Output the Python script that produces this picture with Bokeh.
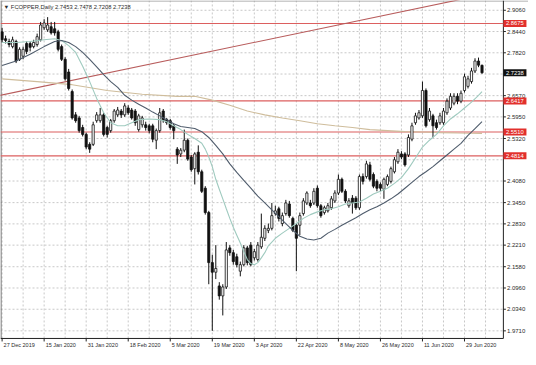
import math
from bokeh.plotting import figure
from bokeh.models import Label, Range1d
from bokeh.core.properties import value
from bokeh.embed import file_html
from bokeh.resources import INLINE

# ---- data ----
date_labels = ["27 Dec 2019", "15 Jan 2020", "31 Jan 2020", "18 Feb 2020", "5 Mar 2020",
               "19 Mar 2020", "3 Apr 2020", "22 Apr 2020", "8 May 2020", "26 May 2020",
               "11 Jun 2020", "29 Jun 2020"]
date_bar = [0, 12, 24, 36, 48, 60, 72, 84, 96, 108, 120, 132]

opens = [2.843, 2.823, 2.815, 2.800, 2.815, 2.763, 2.772, 2.809, 2.809, 2.800,
         2.806, 2.820, 2.855, 2.849, 2.858, 2.852, 2.843, 2.800, 2.763, 2.726,
         2.669, 2.601, 2.592, 2.564, 2.544, 2.515, 2.515, 2.584, 2.584, 2.601,
         2.564, 2.555, 2.584, 2.601, 2.612, 2.601, 2.621, 2.615, 2.612, 2.558,
         2.572, 2.572, 2.569, 2.569, 2.527, 2.555, 2.612, 2.587, 2.584, 2.569,
         2.501, 2.487, 2.498, 2.527, 2.478, 2.444, 2.492, 2.435, 2.387, 2.316,
         2.170, 2.142, 2.102, 2.073, 2.099, 2.213, 2.199, 2.187, 2.145, 2.164,
         2.213, 2.221, 2.184, 2.179, 2.216, 2.241, 2.264, 2.270, 2.313, 2.327,
         2.284, 2.313, 2.341, 2.299, 2.279, 2.279, 2.313, 2.344, 2.344, 2.344,
         2.387, 2.336, 2.316, 2.321, 2.330, 2.350, 2.373, 2.413, 2.378, 2.336,
         2.358, 2.358, 2.330, 2.421, 2.421, 2.455, 2.427, 2.407, 2.398, 2.384,
         2.398, 2.407, 2.435, 2.464, 2.487, 2.487, 2.484, 2.530, 2.578, 2.592,
         2.598, 2.672, 2.587, 2.598, 2.578, 2.578, 2.578, 2.607, 2.621, 2.635,
         2.655, 2.641, 2.672, 2.684, 2.698, 2.729, 2.758, 2.7453]
highs = [2.855, 2.832, 2.823, 2.829, 2.820, 2.798, 2.800, 2.815, 2.815, 2.820,
         2.838, 2.872, 2.880, 2.886, 2.872, 2.872, 2.849, 2.806, 2.769, 2.735,
         2.675, 2.609, 2.598, 2.572, 2.549, 2.521, 2.581, 2.609, 2.621, 2.607,
         2.569, 2.589, 2.618, 2.624, 2.618, 2.635, 2.629, 2.621, 2.618, 2.604,
         2.598, 2.581, 2.575, 2.575, 2.561, 2.621, 2.618, 2.592, 2.589, 2.575,
         2.507, 2.504, 2.558, 2.532, 2.484, 2.492, 2.512, 2.441, 2.393, 2.321,
         2.193, 2.221, 2.113, 2.107, 2.230, 2.221, 2.207, 2.196, 2.173, 2.221,
         2.219, 2.230, 2.210, 2.230, 2.313, 2.279, 2.284, 2.344, 2.336, 2.333,
         2.316, 2.353, 2.350, 2.304, 2.284, 2.316, 2.358, 2.378, 2.353, 2.387,
         2.395, 2.341, 2.336, 2.344, 2.364, 2.381, 2.427, 2.418, 2.384, 2.358,
         2.367, 2.364, 2.427, 2.430, 2.467, 2.464, 2.433, 2.413, 2.404, 2.418,
         2.427, 2.450, 2.478, 2.501, 2.495, 2.492, 2.544, 2.578, 2.607, 2.615,
         2.698, 2.678, 2.621, 2.604, 2.587, 2.607, 2.621, 2.649, 2.664, 2.664,
         2.664, 2.672, 2.721, 2.715, 2.738, 2.766, 2.768, 2.7478]
lows = [2.812, 2.809, 2.798, 2.795, 2.752, 2.758, 2.763, 2.778, 2.786, 2.795,
        2.800, 2.815, 2.849, 2.843, 2.835, 2.832, 2.786, 2.758, 2.701, 2.672,
        2.587, 2.578, 2.549, 2.538, 2.501, 2.490, 2.510, 2.578, 2.578, 2.538,
        2.535, 2.549, 2.578, 2.595, 2.592, 2.595, 2.601, 2.587, 2.569, 2.552,
        2.564, 2.555, 2.547, 2.521, 2.501, 2.549, 2.578, 2.572, 2.558, 2.530,
        2.458, 2.478, 2.492, 2.467, 2.435, 2.398, 2.427, 2.373, 2.310, 2.107,
        1.971, 2.122, 2.062, 2.016, 2.093, 2.190, 2.164, 2.156, 2.130, 2.159,
        2.162, 2.159, 2.176, 2.173, 2.210, 2.233, 2.256, 2.264, 2.307, 2.290,
        2.276, 2.307, 2.301, 2.259, 2.145, 2.250, 2.307, 2.338, 2.330, 2.338,
        2.330, 2.301, 2.310, 2.316, 2.324, 2.344, 2.367, 2.373, 2.344, 2.330,
        2.313, 2.324, 2.324, 2.398, 2.415, 2.407, 2.387, 2.378, 2.378, 2.356,
        2.393, 2.401, 2.430, 2.458, 2.472, 2.450, 2.478, 2.524, 2.572, 2.587,
        2.592, 2.564, 2.581, 2.535, 2.558, 2.572, 2.572, 2.601, 2.615, 2.629,
        2.632, 2.635, 2.666, 2.678, 2.692, 2.723, 2.740, 2.7208]
closes = [2.820, 2.818, 2.806, 2.820, 2.758, 2.792, 2.792, 2.786, 2.798, 2.812,
          2.829, 2.863, 2.869, 2.863, 2.840, 2.840, 2.792, 2.763, 2.706, 2.678,
          2.592, 2.584, 2.555, 2.544, 2.507, 2.501, 2.572, 2.601, 2.601, 2.544,
          2.544, 2.584, 2.612, 2.615, 2.601, 2.627, 2.607, 2.592, 2.578, 2.598,
          2.592, 2.564, 2.555, 2.530, 2.555, 2.607, 2.584, 2.578, 2.564, 2.555,
          2.484, 2.498, 2.527, 2.472, 2.441, 2.487, 2.435, 2.378, 2.316, 2.170,
          2.142, 2.153, 2.073, 2.099, 2.207, 2.199, 2.173, 2.164, 2.164, 2.213,
          2.170, 2.164, 2.202, 2.221, 2.244, 2.270, 2.270, 2.307, 2.321, 2.299,
          2.307, 2.344, 2.307, 2.264, 2.241, 2.307, 2.350, 2.373, 2.336, 2.378,
          2.336, 2.307, 2.330, 2.336, 2.356, 2.373, 2.413, 2.378, 2.350, 2.350,
          2.344, 2.330, 2.421, 2.407, 2.458, 2.413, 2.393, 2.387, 2.387, 2.413,
          2.421, 2.444, 2.470, 2.492, 2.478, 2.455, 2.535, 2.569, 2.598, 2.607,
          2.672, 2.569, 2.612, 2.569, 2.564, 2.598, 2.612, 2.641, 2.655, 2.655,
          2.641, 2.664, 2.712, 2.706, 2.729, 2.758, 2.746, 2.7238]

# moving averages, read at selected bars
ma_fast_bar = [0, 4, 8, 12, 15, 17, 19, 21, 23, 25, 27, 29, 31, 33, 35, 37, 39, 42, 45, 47,
               49, 51, 53, 55, 57, 58, 59, 60, 61, 62, 63, 64, 65, 66, 67, 68, 69, 70, 71, 72,
               73, 74, 75, 76, 78, 80, 82, 84, 86, 88, 90, 92, 94, 96, 98, 100, 102, 104, 106,
               108, 110, 112, 114, 116, 118, 120, 122, 124, 126, 128, 130, 132, 134, 136, 137]
ma_fast = [2.812, 2.812, 2.815, 2.820, 2.823, 2.818, 2.803, 2.783, 2.743, 2.698, 2.649, 2.607,
           2.578, 2.569, 2.569, 2.578, 2.587, 2.589, 2.587, 2.581, 2.569, 2.558, 2.544, 2.532,
           2.518, 2.501, 2.478, 2.450, 2.413, 2.384, 2.356, 2.327, 2.299, 2.273, 2.250, 2.227,
           2.202, 2.179, 2.167, 2.164, 2.170, 2.184, 2.199, 2.219, 2.241, 2.256, 2.270, 2.284,
           2.299, 2.310, 2.318, 2.324, 2.327, 2.333, 2.341, 2.344, 2.347, 2.358, 2.370, 2.378,
           2.387, 2.401, 2.418, 2.444, 2.475, 2.507, 2.527, 2.544, 2.569, 2.589, 2.604, 2.621,
           2.638, 2.658, 2.669]
ma_slow_bar = [0, 4, 8, 12, 15, 17, 19, 21, 23, 25, 27, 29, 31, 33, 35, 37, 39, 41, 43, 45,
               47, 49, 51, 53, 55, 57, 59, 61, 63, 65, 67, 69, 71, 73, 75, 77, 79, 81, 83, 85,
               87, 89, 91, 93, 95, 97, 99, 101, 103, 105, 107, 109, 111, 113, 115, 117, 119,
               121, 123, 125, 127, 129, 131, 133, 135, 137]
ma_slow = [2.745, 2.758, 2.778, 2.800, 2.815, 2.818, 2.812, 2.800, 2.783, 2.763, 2.741, 2.718,
           2.698, 2.681, 2.658, 2.644, 2.632, 2.621, 2.609, 2.598, 2.587, 2.575, 2.567, 2.564,
           2.561, 2.552, 2.535, 2.512, 2.487, 2.458, 2.433, 2.410, 2.387, 2.364, 2.344, 2.324,
           2.304, 2.284, 2.264, 2.247, 2.239, 2.236, 2.241, 2.256, 2.267, 2.279, 2.290, 2.301,
           2.313, 2.324, 2.333, 2.344, 2.356, 2.370, 2.387, 2.404, 2.421, 2.435, 2.450, 2.467,
           2.484, 2.501, 2.518, 2.541, 2.561, 2.581]
ma_long_bar = [0, 10, 20, 30, 40, 50, 55, 60, 65, 70, 75, 80, 85, 90, 95, 100, 105, 110,
               115, 120, 125, 130, 137]
ma_long = [2.706, 2.698, 2.689, 2.672, 2.661, 2.655, 2.655, 2.644, 2.629, 2.612, 2.601, 2.592,
           2.584, 2.575, 2.569, 2.564, 2.558, 2.555, 2.552, 2.551, 2.549, 2.548, 2.547]

trend_bar = [-1, 140]
trend_price = [2.657, 2.957]

levels = [2.8675, 2.6417, 2.5510, 2.4814]
last_price = 2.7238
price_ticks = [1.9710, 2.0340, 2.0960, 2.1580, 2.2210, 2.2830, 2.3450, 2.4080, 2.4700,
               2.5320, 2.5950, 2.6570, 2.7200, 2.7820, 2.8440, 2.9060]
hidden_ticks = [2.4700, 2.7200]
title_text = "\u25bc FCOPPER,Daily  2.7453 2.7478 2.7208 2.7238"

# ---- layout / style (not data) ----
FONT = "Liberation Sans"
TXT = "#2b2b2b"
GRID = "#c8c8c8"
AX = "#222222"
LEVEL = "#dc5f5f"
x_lo, x_hi = -0.457, 150.27      # whole canvas width; price scale drawn inside
axis_x = 143.1                    # price axis line
tag_cx = axis_x + 3.3             # centre of price tags
axis_y = 1.9488                   # time axis line
y_lo, y_hi = 1.9166, 2.9345

p = figure(frame_width=528, frame_height=349, output_backend="svg", toolbar_location=None,
           x_range=Range1d(x_lo, x_hi), y_range=Range1d(y_lo, y_hi),
           x_axis_location=None, y_axis_location=None,
           min_border_left=0, min_border_right=0, min_border_top=0, min_border_bottom=0)
p.background_fill_color = "white"
p.border_fill_color = "white"
p.outline_line_color = None
p.xgrid.grid_line_color = None
p.ygrid.grid_line_color = None

# grid: horizontal at price ticks, vertical every 6 bars
grid_bars = sorted(date_bar + [d + 6 for d in date_bar])
n_t = len(price_ticks)
p.segment(x0=[x_lo] * n_t, y0=price_ticks, x1=[axis_x] * n_t, y1=price_ticks,
          line_color=GRID, line_dash="2 2", line_width=1)
n_g = len(grid_bars)
p.segment(x0=grid_bars, y0=[axis_y] * n_g, x1=grid_bars, y1=[y_hi] * n_g,
          line_color=GRID, line_dash="2 2", line_width=1)

# frame: left border, top border, price axis, time axis
p.segment(x0=[x_lo + 0.15, x_lo, axis_x, x_lo], y0=[axis_y, y_hi - 0.0015, axis_y, axis_y],
          x1=[x_lo + 0.15, x_hi, axis_x, axis_x], y1=[y_hi, y_hi - 0.0015, y_hi, axis_y],
          line_color=["#555555", "#9a9a9a", AX, AX], line_width=1)

# support / resistance lines
n_l = len(levels)
p.segment(x0=[x_lo] * n_l, y0=levels, x1=[axis_x] * n_l, y1=levels,
          line_color=LEVEL, line_width=1.1)

# trend line and long moving average
p.line(trend_bar, trend_price, line_color="#b85c5c", line_width=1.1)
p.line(ma_long_bar, ma_long, line_color="#cfbd9c", line_width=1.1)

# candles
bars = list(range(len(closes)))
up = [i for i in bars if closes[i] >= opens[i]]
dn = [i for i in bars if closes[i] < opens[i]]
p.segment(bars, highs, bars, lows, line_color="#111111", line_width=1)
p.vbar(x=up, width=0.62, top=[closes[i] for i in up], bottom=[opens[i] for i in up],
       fill_color="white", line_color="#111111", line_width=0.8)
p.vbar(x=dn, width=0.62, top=[opens[i] for i in dn], bottom=[closes[i] for i in dn],
       fill_color="#111111", line_color="#111111", line_width=0.8)

p.line(ma_fast_bar, ma_fast, line_color="#9fcabf", line_width=1.1)
p.line(ma_slow_bar, ma_slow, line_color="#4f5c6c", line_width=1.1)

# time scale: tick marks and left-aligned date labels
n_d = len(date_bar)
p.ray(x=date_bar, y=[axis_y] * n_d, length=3, length_units="screen", angle=-math.pi / 2,
      line_color=AX, line_width=1)
p.text(x=date_bar, y=[axis_y] * n_d, text=date_labels, x_offset=1.5, y_offset=4,
       text_baseline="top", text_align="left", text_font=value(FONT),
       text_font_size="5.5px", text_color=TXT)

# price scale: tick marks and labels
vis_ticks = [t for t in price_ticks if t not in hidden_ticks]
p.ray(x=[axis_x] * len(vis_ticks), y=vis_ticks, length=2.5, length_units="screen",
      angle=0, line_color=AX, line_width=1)
p.text(x=[axis_x] * len(vis_ticks), y=vis_ticks, text=[f"{t:.4f}" for t in vis_ticks],
       x_offset=3.5, text_baseline="middle", text_align="left",
       text_font=value(FONT), text_font_size="6px", text_color=TXT)

# price tags
p.rect(x=[tag_cx] * n_l, y=levels, width=23, height=7, width_units="screen",
       height_units="screen", fill_color="#e2302c", line_color=None)
p.text(x=[axis_x] * n_l, y=levels, text=[f"{v:.4f}" for v in levels], x_offset=2.5,
       text_baseline="middle", text_align="left", text_font=value(FONT),
       text_font_size="5.8px", text_color="white")
p.rect(x=[tag_cx], y=[last_price], width=23, height=7, width_units="screen",
       height_units="screen", fill_color="#111111", line_color=None)
p.text(x=[axis_x], y=[last_price], text=[f"{last_price:.4f}"], x_offset=2.5,
       text_baseline="middle", text_align="left", text_font=value(FONT),
       text_font_size="5.8px", text_color="white")

# chart title
p.add_layout(Label(x=x_lo, y=y_hi, x_offset=3, y_offset=-6, text=title_text, text_color=TXT,
                   text_font=FONT, text_font_size="5.8px", text_baseline="middle",
                   text_align="left"))

open("out.html", "w").write(file_html(p, INLINE))
